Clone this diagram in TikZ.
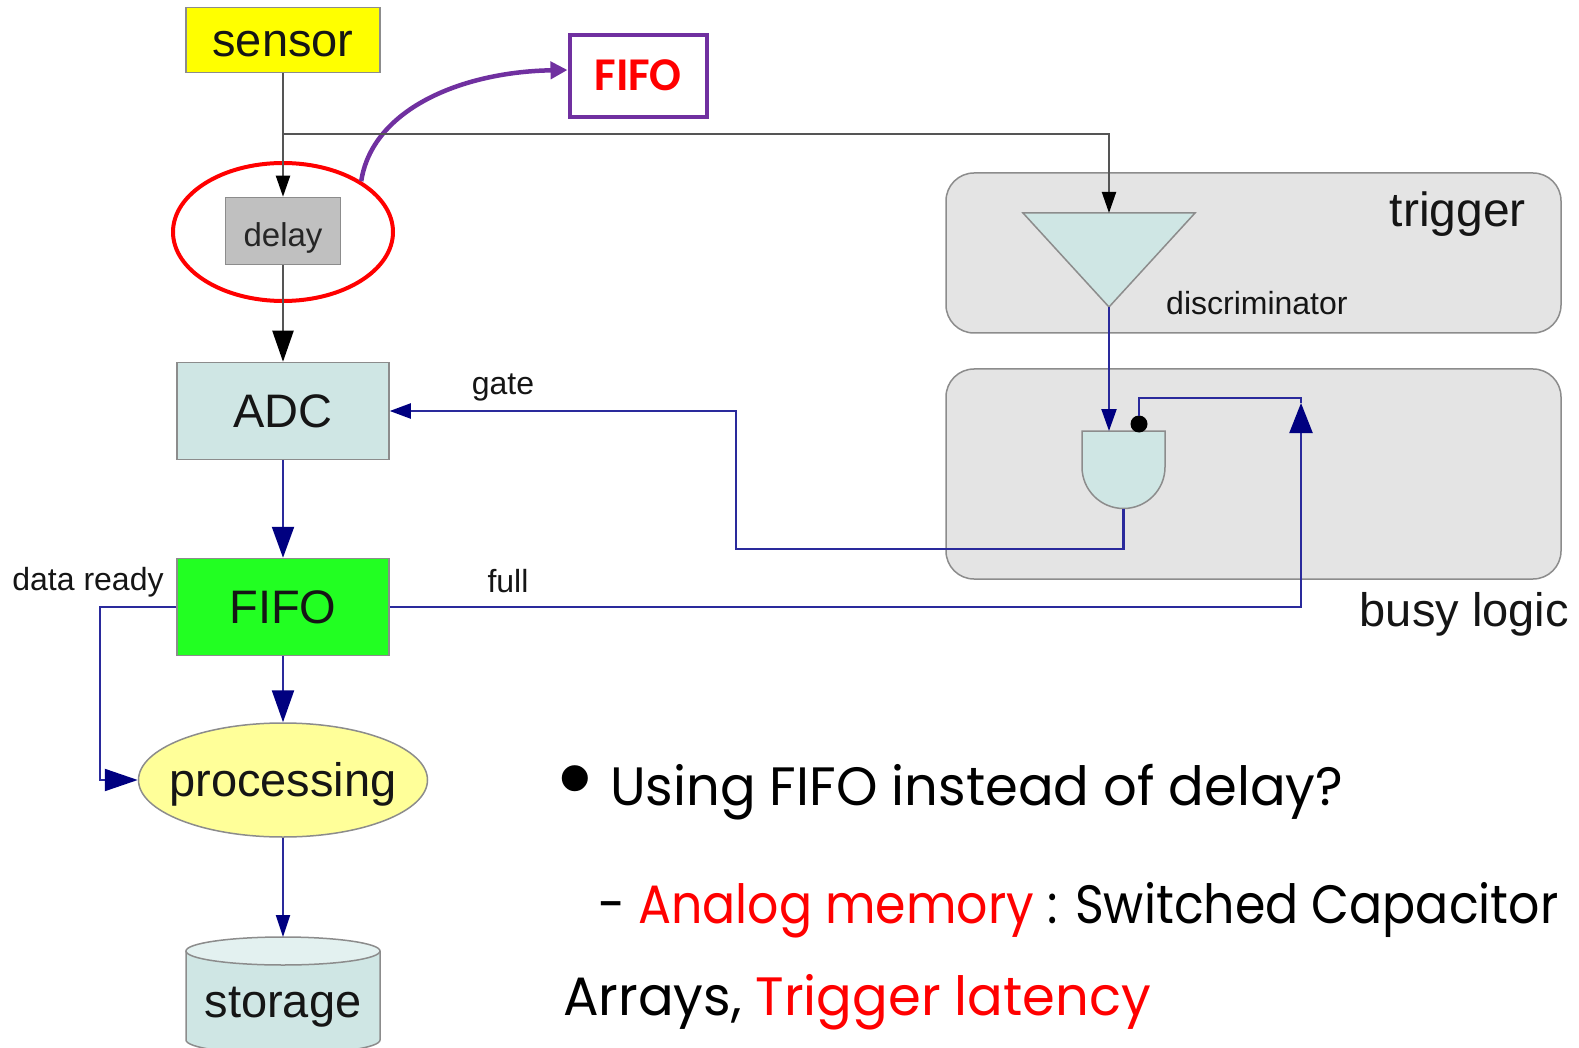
\documentclass[tikz,border=0pt]{standalone}
\usepackage{fontspec}
\usepackage{graphicx}
\setmainfont{Liberation Sans}
\newfontfamily\slidefont{Poppins}
\newfontfamily\notefont{Carlito}
\usetikzlibrary{arrows.meta,shapes.geometric}

\definecolor{panelgray}{HTML}{E4E4E4}
\definecolor{edgegray}{HTML}{8C8C8C}
\definecolor{paleteal}{HTML}{CFE6E4}
\definecolor{topteal}{HTML}{E3F1F0}
\definecolor{sensoryellow}{HTML}{FFFF00}
\definecolor{fifogreen}{HTML}{22FF22}
\definecolor{delaygray}{HTML}{C0C0C0}
\definecolor{procyellow}{HTML}{FFFF99}
\definecolor{wireblue}{HTML}{2A2A9C}
\definecolor{navyhead}{HTML}{000080}
\definecolor{wiregray}{HTML}{555555}
\definecolor{purp}{HTML}{7030A0}
\definecolor{hlred}{HTML}{FF0000}
\definecolor{inktext}{HTML}{151515}

\newsavebox\linebox

\begin{document}
% horizontal squeeze for the slide text lines
\sbox\linebox{\slidefont\fontsize{54}{60}\selectfont Using FIFO instead of delay?}%
\pgfmathsetmacro\slidestretch{733/\the\wd\linebox}%
\sbox\linebox{\slidefont\fontsize{54}{60}\selectfont - Analog memory}%
\pgfmathsetmacro\memstretch{436/\the\wd\linebox}%
\begin{tikzpicture}[x=1pt,y=-1pt,
  every node/.style={inner sep=0pt},
  diag/.style={font=\fontsize{47}{56}\selectfont, text=inktext, text height=42pt, text depth=9pt},
  block/.style={diag, draw=edgegray, line width=1.5},
  lbl/.style={font=\fontsize{32}{38}\selectfont, text=inktext},
  panel/.style={draw=edgegray, fill=panelgray, line width=1.5, rounded corners=28},
  grayline/.style={draw=wiregray, line width=2},
  wire/.style={draw=wireblue, line width=2.2},
  slide/.style={font=\slidefont\fontsize{54}{60}\selectfont, anchor=base west}
]
\useasboundingbox (0,0) rectangle (1579,1048);
\fill[white] (0,0) rectangle (1579,1048);
\clip (0,0) rectangle (1579,1048);

% ---- trigger and busy-logic panels
\node[panel, minimum width=615, minimum height=160] (trigpanel) at (1253.5,253) {};
\node[panel, minimum width=615, minimum height=210] (busypanel) at (1253.5,474) {};
\node[font=\fontsize{48}{56}\selectfont, text=inktext, anchor=base east] (triglbl) at (1526,227) {trigger};
\node[font=\fontsize{47}{56}\selectfont, text=inktext, anchor=base east] (busylbl) at (1569,626) {busy logic};

% ---- discriminator (triangle)
\draw[fill=paleteal, draw=edgegray, line width=1.5] (1023,213) -- (1195,213) -- (1109,307) -- cycle;
\coordinate (discin) at (1109,213);
\coordinate (discout) at (1109,307);
\node[lbl, anchor=base west] (disclbl) at (1166,315) {discriminator};

% ---- AND gate with inverted input
\draw[fill=paleteal, draw=edgegray, line width=1.5] (1082,431) -- (1165,431) -- (1165,467)
  arc[start angle=0, end angle=180, radius=41.5] -- cycle;
\coordinate (andin) at (1109,431);
\coordinate (andout) at (1123.5,508.5);
\fill[black] (1139,424) circle (8.5);
\coordinate (andneg) at (1139,416);

% ---- main chain
\node[block, fill=sensoryellow, minimum width=194, minimum height=65] (sensor) at (283,40) {sensor};
\node[block, fill=delaygray, minimum width=115, minimum height=67,
      font=\fontsize{33}{40}\selectfont, text=black!85, text height=35pt, text depth=3pt] (delay) at (283,231) {delay};
\node[block, fill=paleteal, minimum width=212, minimum height=97] (adc) at (283,411) {ADC};
\node[block, fill=fifogreen, minimum width=212, minimum height=97] (fifo) at (283,607) {FIFO};
\node[draw=edgegray, line width=1.5, ellipse, fill=procyellow, minimum width=289, minimum height=114] (proc) at (283,780) {};
\node[diag] (proclbl) at (proc.center) {processing};

% storage drum
\draw[fill=paleteal, draw=edgegray, line width=1.5] (186,951) -- (186,1040)
  arc[start angle=180, end angle=0, x radius=97, y radius=14] -- (380,951);
\draw[fill=topteal, draw=edgegray, line width=1.5] (283,951) ellipse[x radius=97, y radius=14];
\coordinate (storetop) at (283,937);
\node[font=\fontsize{47}{56}\selectfont, text=inktext, anchor=base] (storage) at (283,1017) {storage};

% ---- highlight and alternative FIFO
\node[draw=hlred, line width=4, ellipse, minimum width=220, minimum height=138] (ring) at (283,232) {};
\node[draw=purp, line width=4, minimum width=137, minimum height=82,
      font=\notefont\bfseries\fontsize{47}{55}\selectfont, text=hlred,
      text height=37pt, text depth=7pt] (fifored) at (638,76) {FIFO};
\draw[draw=purp, line width=4.5, -{Triangle[length=17,width=17]}]
  (ring.33) .. controls (372,110) and (460,72) .. ([yshift=6pt]fifored.west);

% ---- gray signal lines
\coordinate (split) at (283,134);
\draw[grayline, -{Triangle[length=21,width=14,color=black]}] (sensor.south) -- (delay.north);
\draw[grayline, -{Triangle[length=21,width=14,color=black]}] (split) -| (discin);
\draw[grayline, -{Triangle[length=31,width=21,color=black]}] (delay.south) -- (adc.north);

% ---- blue signal lines
\draw[wire, -{Triangle[length=31,width=22,color=navyhead]}] (adc.south) -- (fifo.north);
\draw[wire, -{Triangle[length=32,width=22,color=navyhead]}] (fifo.south) -- (proc.north);
\draw[wire, -{Triangle[length=22,width=14,color=navyhead]}] (proc.south) -- (storetop);
\draw[wire, -{Triangle[length=33,width=22,color=navyhead]}] (fifo.west) -- (100,607) |- (proc.west);
\draw[wire, -{Triangle[length=22,width=15,color=navyhead]}] (discout) -- (andin);
\draw[wire, -{Triangle[length=21,width=15,color=navyhead]}] (andout) |- (736,549) |- (adc.east);
\draw[wire, -{Triangle[length=30,width=23,color=navyhead]}] (fifo.east) -| (1301,403);
\draw[wire] (1301,403) -- (1301,398) -| (andneg);

\node[lbl, anchor=base] (gatelbl) at (503,395) {gate};
\node[lbl, anchor=base] (fulllbl) at (508,592) {full};
\node[lbl, anchor=base] (readylbl) at (88,590) {data ready};

% ---- slide text
\node[font=\fontsize{96}{96}\selectfont, anchor=center] (bullet) at (575,788) {\textbullet};
\node[slide] (line1) at (610,805) {\scalebox{\slidestretch}[1]{Using FIFO instead of delay?}};
\node[slide] (line2) at (598,923) {\scalebox{\memstretch}[1]{- \textcolor{hlred}{Analog memory} : Switched Capacitor}};
\node[slide] (line3) at (563,1015) {\scalebox{\slidestretch}[1]{Arrays, \textcolor{hlred}{Trigger latency}}};
\end{tikzpicture}
\end{document}
